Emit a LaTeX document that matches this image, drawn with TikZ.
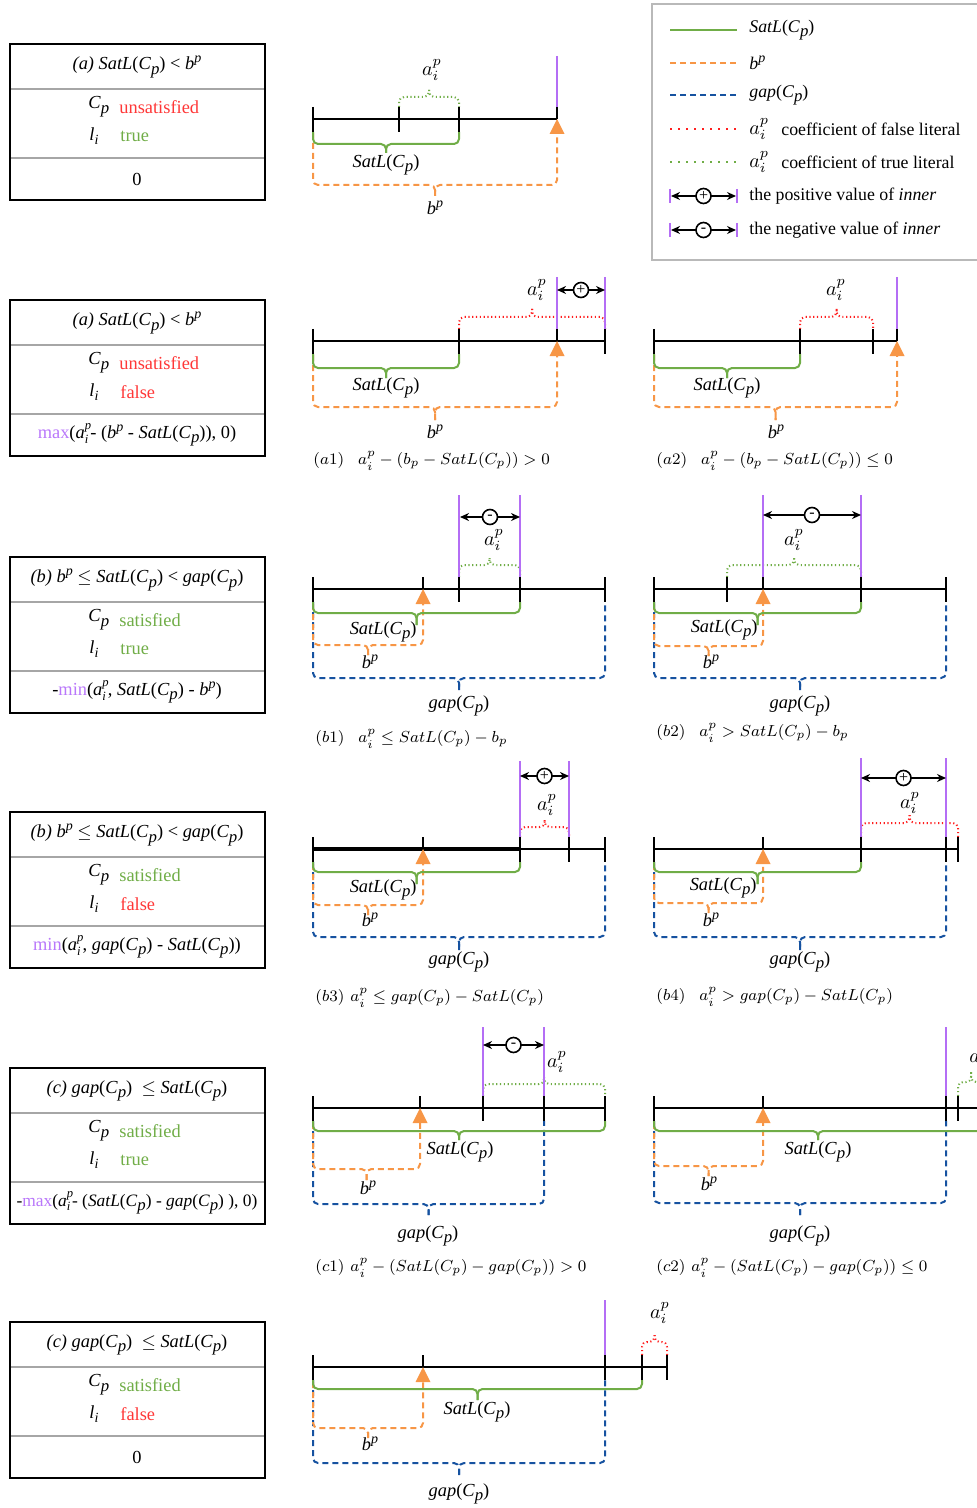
\documentclass[tikz,border=0pt]{standalone}
\usepackage{fontspec}
\setmainfont{Liberation Serif}
\usetikzlibrary{arrows.meta}

\definecolor{satgreen}{RGB}{112,173,71}
\definecolor{bporange}{RGB}{247,150,70}
\definecolor{gapblue}{RGB}{22,82,160}
\definecolor{falsered}{RGB}{255,30,30}
\definecolor{boundpurple}{RGB}{180,110,245}
\definecolor{textred}{RGB}{255,55,55}
\definecolor{maxpurple}{RGB}{185,120,250}

% text pieces
\newcommand{\Cp}{\textit{C}\raisebox{-0.55ex}{\fontsize{8.4}{9}\selectfont\textit{p}}}
\newcommand{\lI}{\textit{l}\raisebox{-0.5ex}{\fontsize{7}{8}\selectfont\textit{i}}}
\newcommand{\bP}{\textit{b}\raisebox{0.8ex}{\fontsize{7}{8}\selectfont\textit{p}}}
\newcommand{\SatLC}{\textit{SatL}(\Cp)}
\newcommand{\gapC}{\textit{gap}(\Cp)}
\newcommand{\aIP}{\textit{a}\makebox[0.3em][l]{\raisebox{1.05ex}{\fontsize{6.3}{7}\selectfont\textit{p}}}\hspace{-0.3em}\makebox[0.3em][l]{\raisebox{-0.6ex}{\fontsize{6.3}{7}\selectfont\textit{i}}}}

% drawing pieces: x in px, Y = axis
\newcommand{\tickf}[2]{\draw[axisline] (#1,#2-12) -- (#1,#2+13);}
\newcommand{\ticku}[2]{\draw[axisline] (#1,#2-12) -- (#1,#2);}
\newcommand{\bound}[3]{\draw[boundline] (#1,#2) -- (#1,#3-12);}
\newcommand{\goal}[2]{\fill[goalfill] (#1,#2) -- ++(-7.5,15) -- ++(15,0) -- cycle;}
\newcommand{\brk}[6]{% style, x1, x2, leg start, bar, tip
  \draw[#1] (#2,#4) -- (#2,#5) -- ({(#2+#3)/2},#5) -- ({(#2+#3)/2},#6);
  \draw[#1] ({(#2+#3)/2},#6) -- ({(#2+#3)/2},#5) -- (#3,#5) -- (#3,#4);}
\newcommand{\innerval}[5]{% x1, x2, y, sign, name
  \draw[innerarrow] (#1,#3) -- (#2,#3) node[signdot, midway] (#5) {#4};}
\newcommand{\casebox}[6]{% top, title, Cp value, li value, result, name
  \draw[boxframe] (10,#1) rectangle (265,#1+156);
  \draw[boxdiv] (11,#1+45) -- (264,#1+45);
  \draw[boxdiv] (11,#1+114) -- (264,#1+114);
  \node[boxtext] (#6-title) at (137,#1+23) {#2};
  \node[boxtext, anchor=west] (#6-c) at (88,#1+63) {\Cp};
  \node[boxtext, anchor=west] (#6-cv) at (119,#1+63) {#3};
  \node[boxtext, anchor=west] (#6-l) at (89,#1+92) {\lI};
  \node[boxtext, anchor=west] (#6-lv) at (120,#1+92) {#4};
  \node[boxtext] (#6-res) at (137,#1+135) {#5};}

\begin{document}
\begin{tikzpicture}[
    x=0.5pt, y=-0.5pt,
    font=\fontsize{9.2}{11}\selectfont,
    axisline/.style={line width=1.2pt, black},
    boundline/.style={line width=0.9pt, boundpurple},
    goalfill/.style={fill=bporange},
    bracebase/.style={line width=1pt, rounded corners=2.5pt},
    satbrace/.style={bracebase, satgreen},
    bpbrace/.style={bracebase, bporange, dash pattern=on 3pt off 2pt},
    gapbrace/.style={bracebase, gapblue, dash pattern=on 3pt off 2pt},
    truebrace/.style={bracebase, satgreen, dash pattern=on 0.6pt off 1.3pt},
    falsebrace/.style={bracebase, falsered, dash pattern=on 0.6pt off 1.3pt},
    innerarrow/.style={{Stealth[length=4.5pt,width=4pt]}-{Stealth[length=4.5pt,width=4pt]}, line width=0.8pt},
    signdot/.style={circle, draw, line width=0.8pt, fill=white, inner sep=0pt,
        minimum size=7.5pt, font=\fontsize{8}{8}\selectfont},
    lbl/.style={inner sep=0pt},
    mlbl/.style={inner sep=0pt, font=\fontsize{10}{12}\selectfont},
    caption/.style={anchor=west, inner sep=0pt, font=\fontsize{8.1}{10}\selectfont},
    boxframe/.style={line width=1.4pt},
    boxdiv/.style={line width=1pt, gray!70},
    boxtext/.style={inner sep=0pt},
    legtext/.style={inner sep=0pt, anchor=west, font=\fontsize{8.9}{11}\selectfont},
    legendframe/.style={line width=1pt, gray!55}
]
\useasboundingbox (0,0) rectangle (977,1508);
\clip (0,0) rectangle (977,1508);

% ---- case boxes
\casebox{44}{\textit{(a) SatL}(\Cp) < \bP}{\textcolor{textred}{unsatisfied}}{\textcolor{satgreen}{true}}{0}{boxa}
\casebox{300}{\textit{(a) SatL}(\Cp) < \bP}{\textcolor{textred}{unsatisfied}}{\textcolor{textred}{false}}{\textcolor{maxpurple}{max}(\aIP- (\bP\ - \SatLC), 0)}{boxaf}
\casebox{557}{\textit{(b)} \bP\ $\leq$ \SatLC\ < \gapC}{\textcolor{satgreen}{satisfied}}{\textcolor{satgreen}{true}}{-\textcolor{maxpurple}{min}(\aIP, \SatLC\ - \bP)}{boxb}
\casebox{812}{\textit{(b)} \bP\ $\leq$ \SatLC\ < \gapC}{\textcolor{satgreen}{satisfied}}{\textcolor{textred}{false}}{\textcolor{maxpurple}{min}(\aIP, \gapC\ - \SatLC)}{boxbf}
\casebox{1068}{\textit{(c)} \gapC\ \ $\leq$\ \SatLC}{\textcolor{satgreen}{satisfied}}{\textcolor{satgreen}{true}}{\fontsize{8.7}{10}\selectfont -\textcolor{maxpurple}{max}(\aIP- (\SatLC\ - \gapC\ ), 0)}{boxc}
\casebox{1322}{\textit{(c)} \gapC\ \ $\leq$\ \SatLC}{\textcolor{satgreen}{satisfied}}{\textcolor{textred}{false}}{0}{boxcf}

% ---- legend
\draw[legendframe] (652,4) rectangle (1000,260);
\draw[satbrace] (670,30) -- (737,30);
\draw[bpbrace] (670,63) -- (737,63);
\draw[gapbrace] (670,95) -- (737,95);
\draw[falsebrace, dash pattern=on 1pt off 3pt] (670,129) -- (737,129);
\draw[truebrace, dash pattern=on 1pt off 3pt] (670,162) -- (737,162);
\draw[boundline] (670,189) -- (670,203);
\draw[boundline] (737,189) -- (737,203);
\innerval{671}{736}{196}{+}{legpos}
\draw[boundline] (670,223) -- (670,237);
\draw[boundline] (737,223) -- (737,237);
\innerval{671}{736}{230}{-}{legneg}
\node[legtext] (legsat) at (749,30) {\SatLC};
\node[legtext] (legb) at (749,63) {\bP};
\node[legtext] (leggap) at (749,95) {\gapC};
\node[mlbl, anchor=west] (legfa) at (749,129) {$a_i^p$};
\node[legtext] (legfalse) at (781,129) {coefficient of false literal};
\node[mlbl, anchor=west] (legta) at (749,162) {$a_i^p$};
\node[legtext] (legtrue) at (781,162) {coefficient of true literal};
\node[legtext] (legposv) at (749,196) {the positive value of \textit{inner}};
\node[legtext] (legnegv) at (749,230) {the negative value of \textit{inner}};

% ---- (a)
\brk{bpbrace}{313}{557}{133}{185}{196}
\brk{satbrace}{313}{459}{132}{144}{153}
\brk{truebrace}{399}{459}{107}{97}{90}
\draw[axisline] (313,119) -- (557,119);
\tickf{313}{119} \tickf{399}{119} \tickf{459}{119} \ticku{557}{119}
\bound{557}{56}{119}
\goal{557}{119}
\node[lbl] (sat0) at (386,165) {\SatLC};
\node[lbl] (b0) at (435,208) {\bP};
\node[mlbl] (a0) at (432,70) {$a_i^p$};

% ---- (a1)
\brk{bpbrace}{313}{557}{355}{407}{420}
\brk{satbrace}{313}{459}{354}{368}{378}
\brk{falsebrace}{459}{605}{329}{317}{309}
\draw[axisline] (313,341) -- (605,341);
\tickf{313}{341} \tickf{459}{341} \ticku{557}{341} \tickf{605}{341}
\bound{557}{277}{341} \bound{605}{277}{341}
\goal{557}{341}
\innerval{557}{605}{290}{+}{ina1}
\node[lbl] (sata1) at (386,388) {\SatLC};
\node[lbl] (ba1) at (435,432) {\bP};
\node[mlbl] (aa1) at (537,290) {$a_i^p$};
\node[caption] (capa1) at (313,461) {$(a1)\hspace{7pt}a_i^p-(b_p-SatL(C_p))>0$};

% ---- (a2)
\brk{bpbrace}{654}{897}{355}{407}{420}
\brk{satbrace}{654}{800}{354}{368}{378}
\brk{falsebrace}{800}{873}{329}{317}{309}
\draw[axisline] (654,341) -- (897,341);
\tickf{654}{341} \tickf{800}{341} \tickf{873}{341} \ticku{897}{341}
\bound{897}{277}{341}
\goal{897}{341}
\node[lbl] (sata2) at (727,388) {\SatLC};
\node[lbl] (ba2) at (776,432) {\bP};
\node[mlbl] (aa2) at (836,290) {$a_i^p$};
\node[caption] (capa2) at (656,461) {$(a2)\hspace{7pt}a_i^p-(b_p-SatL(C_p))\leq 0$};

% ---- (b1)
\brk{gapbrace}{313}{605}{602}{678}{690}
\brk{bpbrace}{313}{423}{604}{645}{655}
\brk{satbrace}{313}{520}{602}{613}{625}
\brk{truebrace}{459}{520}{577}{565}{558}
\draw[axisline] (313,589) -- (605,589);
\tickf{313}{589} \ticku{423}{589} \tickf{459}{589} \tickf{520}{589} \tickf{605}{589}
\bound{459}{495}{589} \bound{520}{495}{589}
\goal{423}{589}
\innerval{460}{520}{517}{-}{inb1}
\node[lbl, anchor=east] (satb1) at (417,632) {\SatLC};
\node[lbl] (bb1) at (370,662) {\bP};
\node[lbl] (gapb1) at (459,706) {\gapC};
\node[mlbl] (ab1) at (494,540) {$a_i^p$};
\node[caption] (capb1) at (315,739) {$(b1)\hspace{7pt}a_i^p\leq SatL(C_p)-b_p$};

% ---- (b2)
\brk{gapbrace}{654}{946}{602}{678}{690}
\brk{bpbrace}{654}{763}{604}{646}{656}
\brk{satbrace}{654}{861}{602}{613}{625}
\brk{truebrace}{727}{861}{577}{565}{558}
\draw[axisline] (654,589) -- (946,589);
\tickf{654}{589} \tickf{727}{589} \ticku{763}{589} \tickf{861}{589} \tickf{946}{589}
\bound{763}{495}{589} \bound{861}{495}{589}
\goal{763}{589}
\innerval{763}{861}{515}{-}{inb2}
\node[lbl, anchor=east] (satb2) at (758,630) {\SatLC};
\node[lbl] (bb2) at (711,662) {\bP};
\node[lbl] (gapb2) at (800,706) {\gapC};
\node[mlbl] (ab2) at (794,540) {$a_i^p$};
\node[caption] (capb2) at (656,733) {$(b2)\hspace{7pt}a_i^p> SatL(C_p)-b_p$};

% ---- (b3)
\brk{gapbrace}{313}{605}{862}{937}{950}
\brk{bpbrace}{313}{423}{864}{905}{915}
\brk{satbrace}{313}{520}{862}{872}{884}
\brk{falsebrace}{520}{569}{837}{827}{820}
\draw[axisline] (313,849) -- (605,849);
\draw[axisline, line width=1.7pt] (313,849) -- (520,849);
\tickf{313}{849} \ticku{423}{849} \tickf{520}{849} \tickf{569}{849} \tickf{605}{849}
\bound{520}{761}{849} \bound{569}{761}{849}
\goal{423}{849}
\innerval{520}{569}{776}{+}{inb3}
\node[lbl, anchor=east] (satb3) at (417,890) {\SatLC};
\node[lbl] (bb3) at (370,920) {\bP};
\node[lbl] (gapb3) at (459,962) {\gapC};
\node[mlbl] (ab3) at (547,805) {$a_i^p$};
\node[caption] (capb3) at (315,998) {$(b3)\hspace{3pt}a_i^p\leq gap(C_p)-SatL(C_p)$};

% ---- (b4)
\brk{gapbrace}{654}{946}{862}{937}{950}
\brk{bpbrace}{654}{763}{864}{903}{913}
\brk{satbrace}{654}{861}{862}{872}{884}
\brk{falsebrace}{861}{958}{837}{823}{815}
\draw[axisline] (654,849) -- (958,849);
\tickf{654}{849} \ticku{763}{849} \tickf{861}{849} \tickf{946}{849} \tickf{958}{849}
\bound{861}{758}{849} \bound{946}{758}{849}
\goal{763}{849}
\innerval{861}{946}{778}{+}{inb4}
\node[lbl, anchor=east] (satb4) at (757,888) {\SatLC};
\node[lbl] (bb4) at (711,920) {\bP};
\node[lbl] (gapb4) at (800,962) {\gapC};
\node[mlbl] (ab4) at (910,803) {$a_i^p$};
\node[caption] (capb4) at (656,997) {$(b4)\hspace{7pt}a_i^p> gap(C_p)-SatL(C_p)$};

% ---- (c1)
\brk{gapbrace}{313}{544}{1121}{1204}{1215}
\brk{bpbrace}{313}{420}{1123}{1169}{1180}
\brk{satbrace}{313}{605}{1121}{1131}{1140}
\brk{truebrace}{483}{605}{1096}{1084}{1077}
\draw[axisline] (313,1108) -- (605,1108);
\tickf{313}{1108} \ticku{420}{1108} \tickf{483}{1108} \tickf{544}{1108} \tickf{605}{1108}
\bound{483}{1027}{1108} \bound{544}{1027}{1108}
\goal{420}{1108}
\innerval{483}{544}{1045}{-}{inc1}
\node[lbl] (satc1) at (460,1152) {\SatLC};
\node[lbl] (bc1) at (368,1188) {\bP};
\node[lbl] (gapc1) at (428,1236) {\gapC};
\node[mlbl] (ac1) at (557,1062) {$a_i^p$};
\node[caption] (capc1) at (315,1268) {$(c1)\hspace{3pt}a_i^p-(SatL(C_p)-gap(C_p))>0$};

% ---- (c2)
\brk{gapbrace}{654}{946}{1121}{1203}{1215}
\brk{bpbrace}{654}{763}{1123}{1166}{1176}
\brk{satbrace}{654}{982}{1121}{1131}{1140}
\brk{truebrace}{958}{984}{1096}{1082}{1072}
\draw[axisline] (654,1108) -- (985,1108);
\tickf{654}{1108} \ticku{763}{1108} \tickf{946}{1108} \tickf{958}{1108} \tickf{982}{1108}
\bound{946}{1027}{1108}
\goal{763}{1108}
\node[lbl] (satc2) at (818,1152) {\SatLC};
\node[lbl] (bc2) at (709,1184) {\bP};
\node[lbl] (gapc2) at (800,1236) {\gapC};
\node[mlbl, anchor=west] (ac2) at (969,1057) {$a_i^p$};
\node[caption] (capc2) at (656,1268) {$(c2)\hspace{3pt}a_i^p-(SatL(C_p)-gap(C_p))\leq 0$};

% ---- (c3)
\brk{gapbrace}{313}{605}{1380}{1463}{1475}
\brk{bpbrace}{313}{423}{1382}{1428}{1438}
\brk{satbrace}{313}{642}{1380}{1389}{1400}
\brk{falsebrace}{642}{667}{1355}{1342}{1335}
\draw[axisline] (313,1367) -- (667,1367);
\tickf{313}{1367} \ticku{423}{1367} \tickf{605}{1367} \tickf{642}{1367} \tickf{667}{1367}
\bound{605}{1300}{1367}
\goal{423}{1367}
\node[lbl] (satc3) at (477,1412) {\SatLC};
\node[lbl] (bc3) at (370,1444) {\bP};
\node[lbl] (gapc3) at (459,1494) {\gapC};
\node[mlbl] (ac3) at (660,1313) {$a_i^p$};
\end{tikzpicture}
\end{document}
